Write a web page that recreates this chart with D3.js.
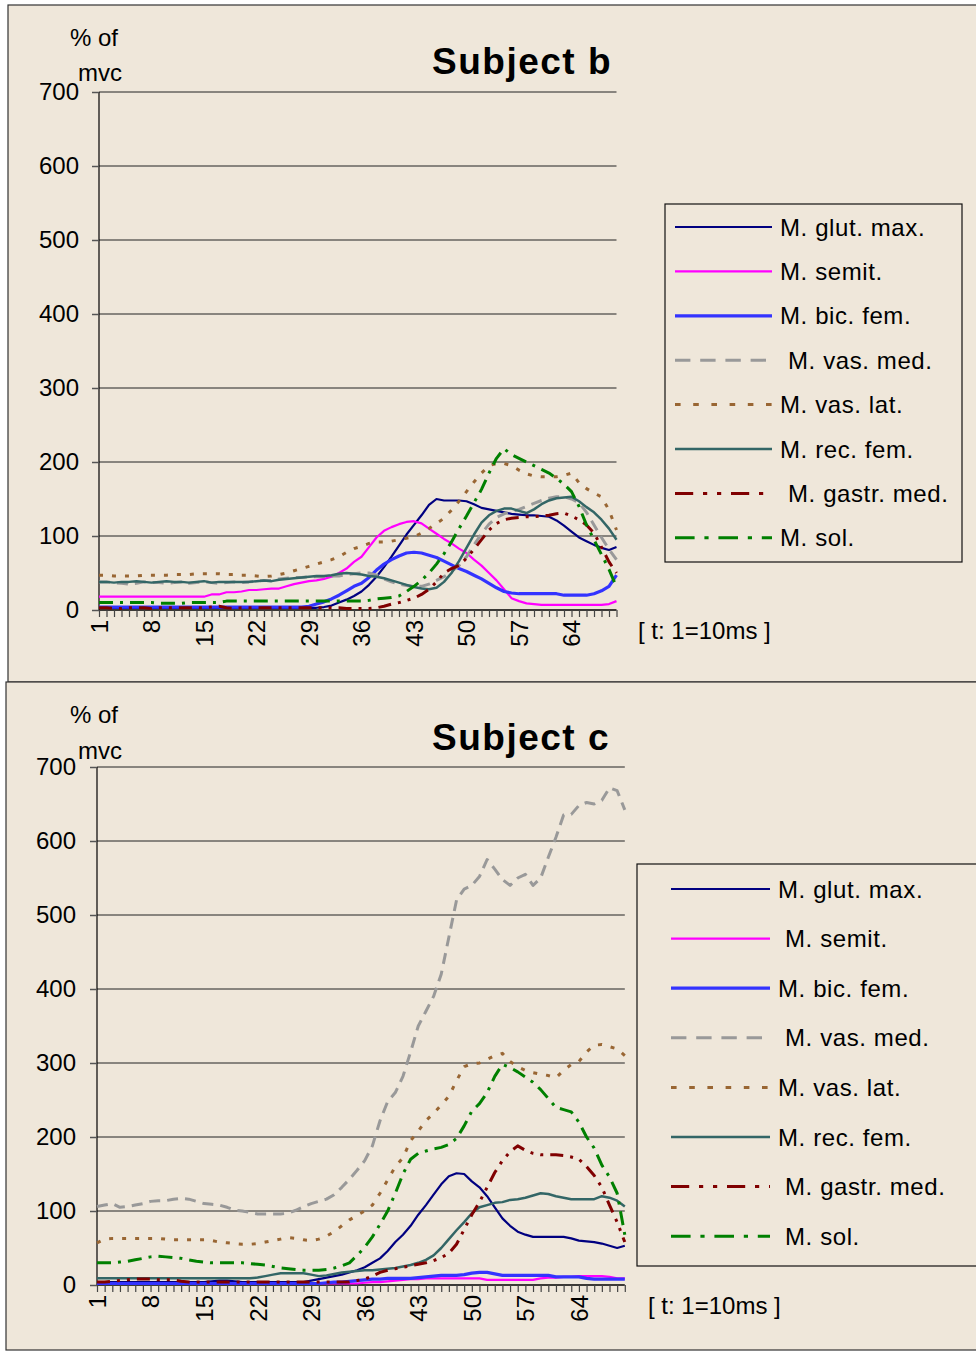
<!DOCTYPE html>
<html><head><meta charset="utf-8">
<script src="https://cdn.jsdelivr.net/npm/d3@7"></script>
<style>
body{margin:0;background:#fff}
svg{display:block}
text{font-family:"Liberation Sans",Arial,sans-serif;fill:#000}
</style>
</head><body>
<svg id="chart" width="976" height="1353"></svg>
<script>
// ---------- DATA ----------
const categories = d3.range(1, 71);
const tickLabels = [1, 8, 15, 22, 29, 36, 43, 50, 57, 64];
const yTicks = [0, 100, 200, 300, 400, 500, 600, 700];
const seriesNames = ["M. glut. max.", "M. semit.", "M. bic. fem.", "M. vas. med.", "M. vas. lat.", "M. rec. fem.", "M. gastr. med.", "M. sol."];

// Subject b
const glutB = [3,3,3,3,3,3,3,3,3,3, 3,3,3,3,3,3,3,3,3,3, 3,3,3,3,3,3,3,3,3,3,
  4,6,10,14,19,25,34,45,58,72, 87,102,115,128,142,150,148,148,148,147,
  143,138,136,134,132,130,129,128,128,127, 126,121,114,106,98,93,88,84,81,85];
const semitB = [18,18,18,18,18,18,18,18,18,18, 18,18,18,18,18,21,21,24,24,25,
  27,27,28,29,29,32,35,37,39,40, 42,45,50,56,65,72,85,98,107,112,
  116,119,120,117,110,103,96,90,83,77, 68,60,50,40,28,16,12,9,8,7,
  7,7,7,7,7,7,7,7,8,12];
const bicB = [4,4,4,4,4,4,4,4,4,4, 4,4,4,4,4,4,4,4,4,4, 4,4,4,4,4,4,4,4,5,8,
  11,15,20,26,32,36,44,54,62,68, 73,77,78,77,74,71,66,61,56,52,
  47,42,36,30,25,23,22,22,22,22, 22,22,20,20,20,20,22,26,32,47];
const vasMedB = [38,38,37,36,35,36,38,37,37,36, 37,38,36,37,38,37,36,37,38,37,
  38,39,40,40,42,43,44,44,45,45, 45,46,46,48,49,50,50,47,42,38,
  35,33,32,32,35,40,45,52,60,72, 88,103,116,125,130,133,136,140,144,148,
  151,153,153,150,145,132,115,98,82,68];
const vasLatB = [47,47,46,46,46,46,47,47,47,47, 48,48,48,49,49,49,49,48,48,47,
  47,46,45,46,48,50,53,56,59,62, 65,68,72,78,83,86,90,92,92,93,
  95,97,99,104,110,117,124,135,147,160, 173,185,195,198,198,195,189,184,181,180,
  180,180,182,185,172,164,158,153,135,108];
const recFemB = [38,38,37,38,38,39,38,37,38,39, 38,38,37,38,39,37,38,38,38,38,
  38,39,40,39,41,42,43,44,45,46, 46,47,49,50,49,48,46,45,43,40,
  37,34,31,29,28,30,38,50,66,84, 102,118,128,134,137,137,134,131,136,143,
  148,151,152,153,147,139,132,122,110,95];
const gastrB = [3,3,2,2,3,3,3,2,3,3, 3,3,3,3,3,4,5,3,2,3, 3,3,3,3,3,3,3,3,3,3,
  3,3,3,2,2,2,2,3,5,8, 10,13,16,21,28,38,50,56,60,70,
  82,95,108,117,122,124,125,126,126,127, 128,130,131,127,122,115,104,85,65,50];
const solB = [10,10,10,10,10,10,10,10,9,9, 9,9,10,10,10,10,10,12,12,12,
  12,12,12,12,12,12,12,12,12,12, 12,12,12,12,12,12,13,15,16,17,
  19,25,32,40,50,62,76,92,110,127, 145,163,185,205,218,210,205,200,195,190,
  185,178,170,160,140,115,95,75,55,31];

// Subject c
const glutC = [4,4,4,4,4,4,4,4,4,4, 4,4,4,4,4,5,6,6,5,4, 4,4,4,4,4,4,4,4,6,8,
  10,12,14,17,20,24,30,36,46,58, 68,80,95,108,122,136,147,151,150,140,
  132,120,105,90,80,72,68,65,65,65, 65,65,63,60,59,58,56,53,50,53];
const semitC = [2,2,2,2,2,2,2,2,2,2, 2,2,2,2,2,2,2,2,2,2, 2,2,2,2,2,2,2,2,2,2,
  2,2,2,2,2,3,4,4,5,6, 7,8,8,9,9,9,9,9,9,9,
  9,7,7,7,7,7,7,7,9,10, 10,11,11,12,12,12,12,11,9,9];
const bicC = [2,2,2,2,2,2,2,2,2,2, 2,2,2,2,2,2,2,2,2,2, 2,2,2,2,2,2,2,2,2,2,
  3,4,4,5,6,7,8,8,9,9, 9,9,10,11,12,13,13,13,14,16,
  17,17,15,13,13,13,13,13,13,13, 11,11,11,11,9,8,8,8,8,8];
const vasMedC = [106,108,110,105,106,108,110,113,114,114, 116,117,116,113,110,109,108,105,101,100,
  98,96,96,96,96,97,101,106,110,113, 116,122,132,143,155,168,188,222,248,260,
  282,315,350,370,390,420,470,520,535,540, 552,575,562,548,540,550,555,540,550,578,
  605,635,636,648,652,650,655,672,668,642];
const vasLatC = [57,62,63,63,63,63,63,63,63,62, 61,61,61,61,61,60,58,57,56,55,
  55,56,58,60,62,64,63,61,60,62, 66,72,80,88,94,100,108,124,142,160,
  172,195,208,222,232,243,255,276,295,299, 300,305,310,313,302,295,290,287,285,283,
  280,290,298,302,315,324,325,322,319,310];
const recFemC = [9,9,9,9,9,9,9,9,9,9, 9,9,9,9,9,9,9,9,9,9, 9,10,12,14,16,16,16,16,14,12,
  13,15,17,18,19,20,20,21,22,23, 25,27,30,34,40,50,62,74,85,97,
  105,108,111,112,115,116,118,121,124,123, 120,118,116,116,116,116,120,118,114,106];
const gastrC = [4,4,5,6,7,8,8,8,7,7, 7,5,4,4,4,4,4,4,4,4, 4,4,4,4,4,4,4,4,4,4,
  4,4,4,4,6,8,12,17,20,22, 24,26,28,30,33,37,43,55,75,95,
  112,132,152,168,180,188,182,178,176,176, 176,175,173,170,160,148,132,108,85,58];
const solC = [30,30,30,31,32,34,36,38,39,38, 37,36,34,32,31,30,30,30,30,30,
  29,28,27,25,23,22,21,20,20,20, 21,23,26,30,40,51,65,82,100,124,
  150,170,178,181,184,186,190,198,215,235, 245,260,282,298,294,288,281,274,264,252,
  240,237,234,220,200,185,162,146,124,68];

// ---------- STYLES ----------
const styles = [
  {color:"#000080", width:2.2, dash:null},
  {color:"#FF00FF", width:2.2, dash:null},
  {color:"#3333FF", width:3.2, dash:null},
  {color:"#999999", width:3,   dash:"11,7"},
  {color:"#996633", width:3,   dash:"4,9"},
  {color:"#336666", width:2.5, dash:null},
  {color:"#800000", width:3,   dash:"13,7,3,7,3,7"},
  {color:"#008000", width:3,   dash:"14,7,3,7"}
];
const BG = "#EFE7DA";

const svg = d3.select("#chart");

const panels = [
  {
    title: "Subject b",
    series: [glutB, semitB, bicB, vasMedB, vasLatB, recFemB, gastrB, solB],
    box: {x:8, y:5, w:1000, h:677},
    plot: {x0:99, x1:616.5, yTop:92, yBot:610},
    titlePos: {x:432, y:74},
    yLabel: {x1:70, y1:46, x2:78, y2:81},
    yLabelEnd: 79,
    tLabel: {x:638, y:639},
    legend: {x:665, y:204, w:297, h:358, lx0:675, lx1:772, tx:780, ry0:227, dy:44.4,
             indent:[0,0,0,8,0,0,8,0]}
  },
  {
    title: "Subject c",
    series: [glutC, semitC, bicC, vasMedC, vasLatC, recFemC, gastrC, solC],
    box: {x:6, y:682, w:1000, h:668},
    plot: {x0:97, x1:624.8, yTop:767, yBot:1285},
    titlePos: {x:432, y:750},
    yLabel: {x1:70, y1:723, x2:78, y2:759},
    yLabelEnd: 76,
    tLabel: {x:648, y:1314},
    legend: {x:637, y:864, w:360, h:402, lx0:671, lx1:770, tx:778, ry0:889, dy:49.6,
             indent:[0,7,0,7,0,0,7,7]}
  }
];

panels.forEach(p => {
  const g = svg.append("g");
  g.append("rect").attr("x", p.box.x).attr("y", p.box.y).attr("width", p.box.w).attr("height", p.box.h)
    .attr("fill", BG).attr("stroke", "#333").attr("stroke-width", 1.2);

  const x = d3.scalePoint().domain(categories).range([p.plot.x0, p.plot.x1]);
  const y = d3.scaleLinear().domain([0, 700]).range([p.plot.yBot, p.plot.yTop]);

  // gridlines
  g.append("g").selectAll("line").data(yTicks.filter(v => v > 0)).join("line")
    .attr("x1", p.plot.x0).attr("x2", p.plot.x1)
    .attr("y1", d => y(d)).attr("y2", d => y(d))
    .attr("stroke", "#222").attr("stroke-width", 1);

  // y axis
  const yAxis = d3.axisLeft(y).tickValues(yTicks).tickSize(7).tickFormat(d3.format("d"));
  const ya = g.append("g").attr("transform", `translate(${p.plot.x0},0)`).call(yAxis);
  ya.select(".domain").attr("stroke", "#000").attr("stroke-width", 1.2).attr("d", `M0,${p.plot.yTop}V${p.plot.yBot}`);
  ya.selectAll(".tick line").attr("stroke", "#555").attr("stroke-width", 1.5);
  ya.selectAll(".tick text").attr("x", p.yLabelEnd - p.plot.x0).attr("dy", "0.32em")
    .style("font-size", "24px").attr("fill", "#000");

  // x axis
  const xAxis = d3.axisBottom(x).tickSize(7).tickFormat(d => tickLabels.includes(d) ? d : "");
  const xa = g.append("g").attr("transform", `translate(0,${p.plot.yBot})`).call(xAxis);
  xa.select(".domain").attr("stroke", "#000").attr("stroke-width", 1.3).attr("d", `M${p.plot.x0},0H${p.plot.x1}`);
  xa.selectAll(".tick line").attr("stroke", "#444").attr("stroke-width", 1.2);
  xa.selectAll(".tick text")
    .attr("transform", "translate(0,10) rotate(-90)")
    .attr("x", 0).attr("y", 0).attr("dy", "0.35em")
    .attr("text-anchor", "end").style("font-size", "24px").attr("fill", "#000");

  // series
  const line = d3.line().x((d, i) => x(categories[i])).y(d => y(d));
  p.series.forEach((s, k) => {
    const st = styles[k];
    g.append("path").datum(s).attr("d", line).attr("fill", "none")
      .attr("stroke", st.color).attr("stroke-width", st.width)
      .attr("stroke-dasharray", st.dash).attr("stroke-linejoin", "round");
  });

  // title & labels
  g.append("text").attr("x", p.titlePos.x).attr("y", p.titlePos.y).text(p.title)
    .style("font-size", "37px").style("font-weight", "bold").style("letter-spacing", "1.5px");
  g.append("text").attr("x", p.yLabel.x1).attr("y", p.yLabel.y1).text("% of").style("font-size", "24px");
  g.append("text").attr("x", p.yLabel.x2).attr("y", p.yLabel.y2).text("mvc").style("font-size", "24px");
  g.append("text").attr("x", p.tLabel.x).attr("y", p.tLabel.y).text("[ t: 1=10ms ]").style("font-size", "24px");

  // legend
  const L = p.legend;
  g.append("rect").attr("x", L.x).attr("y", L.y).attr("width", L.w).attr("height", L.h)
    .attr("fill", BG).attr("stroke", "#111").attr("stroke-width", 1.2);
  seriesNames.forEach((name, k) => {
    const st = styles[k];
    const yy = L.ry0 + k * L.dy;
    g.append("line").attr("x1", L.lx0).attr("x2", L.lx1).attr("y1", yy).attr("y2", yy)
      .attr("stroke", st.color).attr("stroke-width", st.width)
      .attr("stroke-dasharray", st.dash ? st.dash.split(",").map(v => v * 1.4).join(",") : null);
    g.append("text").attr("x", L.tx + L.indent[k]).attr("y", yy).attr("dy", "0.36em")
      .text(name).style("font-size", "24px").style("letter-spacing", "0.6px");
  });
});
</script>
</body></html>
